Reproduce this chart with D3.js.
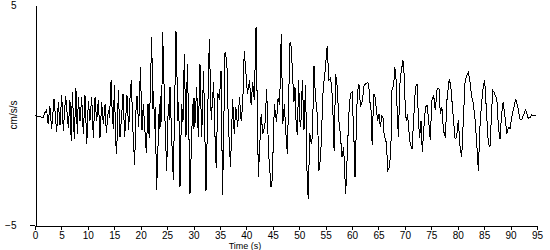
<!DOCTYPE html>
<html><head><meta charset="utf-8">
<script src="https://cdn.jsdelivr.net/npm/d3@7"></script>
<style>
html,body{margin:0;padding:0;background:#fff;overflow:hidden;}
text{font-family:"Liberation Sans",Arial,sans-serif;font-size:10px;fill:#000;}
</style></head>
<body><svg id="c" width="550" height="250"></svg>
<script>
const times = [0,0.9,1.5,1.8,2.2,2.5,2.8,3.15,3.6,4.1,4.42,4.73,5.05,5.36,5.8,6.3,6.62,6.85,7.07,7.44,7.75,8.01,8.2,8.52,8.83,9.15,9.46,9.8,10.1,10.4,10.73,11.04,11.36,11.67,11.99,12.3,12.62,12.93,13.25,13.5,13.88,14.1,14.4,14.6,14.83,15.02,15.27,15.46,15.77,16.09,16.34,16.66,16.97,17.41,17.73,18.0,18.23,18.5,18.86,19.1,19.31,19.62,19.95,20.25,20.5,20.76,21.07,21.39,21.6,22.08,22.3,22.45,22.6,22.75,23.02,23.53,23.65,23.8,23.95,24.16,24.6,24.92,25.23,25.4,25.55,25.86,26.18,26.68,27.06,27.2,27.44,27.75,28.0,28.26,28.57,28.83,29.1,29.33,29.84,29.95,30.09,30.25,30.59,30.91,31.22,31.54,31.9,32.36,32.99,33.35,33.8,34.07,34.3,34.6,34.9,35.2,35.5,35.96,36.3,36.6,37.0,37.4,37.7,38.0,38.35,38.7,39.0,39.3,39.6,39.9,40.2,40.6,40.9,41.2,41.5,41.83,42.27,42.8,43.1,43.5,43.84,44.2,44.67,44.9,45.3,45.7,46.0,46.3,46.6,46.9,47.2,47.4,47.75,48.26,48.5,48.85,49.0,49.2,49.4,49.64,49.9,50.1,50.3,50.6,50.9,51.2,51.5,51.7,52.0,52.3,52.5,52.8,53.1,53.3,53.55,53.74,54.05,54.55,54.9,55.3,55.6,55.95,56.3,56.6,56.9,57.2,57.5,57.8,58.1,58.4,58.8,59.0,59.4,59.7,60.0,60.35,60.56,61.0,61.3,61.6,61.95,62.27,62.6,62.9,63.15,63.35,63.6,63.8,64.1,64.4,64.6,64.85,65.1,65.35,65.65,65.85,66.1,66.4,66.6,66.74,67.1,67.35,67.56,67.9,68.1,68.35,68.6,68.8,69.0,69.3,69.64,69.9,70.1,70.3,70.5,70.7,71.0,71.35,71.65,72.0,72.3,72.6,72.8,73.05,73.3,73.55,73.9,74.2,74.5,74.8,75.1,75.45,75.75,76.1,76.45,76.7,77.0,77.3,77.66,77.95,78.4,78.7,78.9,79.2,79.5,79.8,80.1,80.45,80.75,81.05,81.4,81.7,82.0,82.3,82.6,82.95,83.3,83.6,83.9,84.2,84.5,84.85,85.1,85.5,85.8,86.1,86.4,86.6,86.85,87.25,87.4,87.7,88.0,88.3,88.6,88.95,89.3,89.6,89.9,90.2,90.5,90.97,91.3,91.79,92.1,92.4,92.86,93.37,93.7,94.0,94.3,94.75];
const accel = [0,-0.05,-0.1,0.1,0.25,-0.4,0.45,-0.6,0.76,-0.76,0.6,-0.45,0.95,-0.7,0.9,-0.55,0.7,-1.14,1.06,-1.06,1.25,-0.83,0.83,-0.25,0.83,-0.83,0.91,-1.3,0.68,-0.25,0.83,-1.0,0.83,-0.25,0.7,-1.0,0.6,-0.4,0.5,-0.8,0.25,-0.1,1.6,0.2,-0.6,1.4,-1.2,-1.74,1.14,-0.98,-0.2,0.98,-0.98,0.91,-0.68,0.9,1.6,-0.5,-2.27,0.2,0.9,-0.53,2.2,-0.68,0.53,-0.53,-1.7,0.53,-1.0,3.56,0.3,1.1,-0.6,0.4,-3.4,0.53,-0.6,0.9,-0.3,3.79,-0.23,-2.5,0.53,-0.2,1.29,-0.98,-2.95,3.86,-0.23,0.6,-3.26,0.53,-0.3,2.8,-0.98,2.35,-0.5,-3.56,0.53,-0.6,0.8,-0.53,1.29,-0.98,2.35,-0.98,2.0,-3.41,3.48,-0.2,1.5,-1.0,-2.4,1.0,0.7,2.0,-3.6,2.88,2.5,-0.4,-2.35,0.76,-0.83,0.4,-0.53,0.83,-0.23,0.4,2.95,2.0,1.0,1.6,0.5,1.5,0.7,4.0,-2.8,0.08,-0.83,-0.5,1.2,-1.7,-3.26,-2.9,0.5,-0.3,0.8,0.5,3.7,-0.38,0.53,-0.53,-1.74,3.33,3.1,1.3,0.6,1.3,-0.23,-0.9,1.6,-0.23,-0.53,1.6,-0.68,1.4,-2.8,-3.8,-0.8,-1.3,-0.9,2.27,0.7,0.53,-0.83,-2.5,-1.9,1.3,2.0,3.18,1.6,1.7,0.8,-1.6,1.9,1.3,-0.23,-0.9,-1.9,-1.44,-3.56,-2.35,0.08,1.0,1.06,-1.0,-2.8,1.06,1.44,0.38,0.68,1.36,1.44,1.5,1.44,0.68,0.23,-1.36,0.98,0.83,0.23,-0.23,0.08,-0.53,0,-0.08,-0.98,-1.1,-1.7,-2.5,-2.35,-1.44,1.14,1.44,2.2,1.59,-0.23,-0.98,1.29,2.0,2.5,1.74,0.08,-0.23,0.08,-0.53,-1.29,-1.5,-0.23,1.29,1.44,-0.38,-1.0,-0.23,-1.67,-0.68,0.38,0.45,-0.23,-1.1,0.68,0.91,0.23,1.2,1.24,0.08,0.38,-0.68,-1.0,0.68,1.67,1.3,0.68,-0.23,-1.06,-0.98,-0.2,-1.44,-1.9,-0.23,1.59,1.82,1.97,1.59,0.91,0.53,-0.23,-1.29,-2.5,-0.53,0.53,1.36,1.59,-0.08,-1.29,-1.44,0.08,1.14,1.06,0.83,0.76,-0.53,-1.06,0.08,0.6,-0.08,-0.83,-0.53,-0.6,-0.08,0.23,0.76,0.45,-0.15,-0.2,0,0.26,-0.15,-0.08,0.03,0,0];
const xTickValues = [0,5,10,15,20,25,30,35,40,45,50,55,60,65,70,75,80,85,90,95];
const yTickValues = [-5,5];
const xTitle = "Time (s)";
const yTitle = "cm/s/s";

const svg = d3.select("#c");
const x = d3.scaleLinear().domain([0,95]).range([35,537]);
const y = d3.scaleLinear().domain([-5,5]).range([225.5,5.5]);

// x axis
const xa = svg.append("g").attr("transform","translate(0,225.5)")
  .call(d3.axisBottom(x).tickValues(xTickValues).tickSize(4).tickSizeOuter(0).tickPadding(2));
xa.select(".domain").attr("stroke","#000").attr("shape-rendering","crispEdges");
xa.selectAll(".tick line").attr("stroke","#000").attr("shape-rendering","crispEdges");
xa.selectAll("text").style("font-size","10px").attr("fill","#000");
// left extension of the x axis (y tick at -5)
svg.append("line").attr("x1",30).attr("x2",35).attr("y1",y(-5)).attr("y2",y(-5))
  .attr("stroke","#000").attr("shape-rendering","crispEdges");

// y axis
const ya = svg.append("g").attr("transform","translate(35.5,0)")
  .call(d3.axisLeft(y).tickValues(yTickValues).tickSize(0).tickPadding(19).tickSizeOuter(0));
ya.select(".domain").attr("stroke","#000").attr("shape-rendering","crispEdges");
ya.selectAll("text").style("font-size","10px").attr("fill","#000");

// data line
const line = d3.line().x((d,i)=>x(times[i])).y((d,i)=>y(accel[i]));
svg.append("path").datum(accel).attr("d",line).attr("fill","none")
  .attr("stroke","#000").attr("stroke-width",1).attr("shape-rendering","crispEdges");

// titles
svg.append("text").attr("x",245).attr("y",249).attr("text-anchor","middle").style("font-size","9px").text(xTitle);
svg.append("text").attr("transform","translate(17,115) rotate(-90)").attr("text-anchor","middle").text(yTitle);
</script></body></html>
